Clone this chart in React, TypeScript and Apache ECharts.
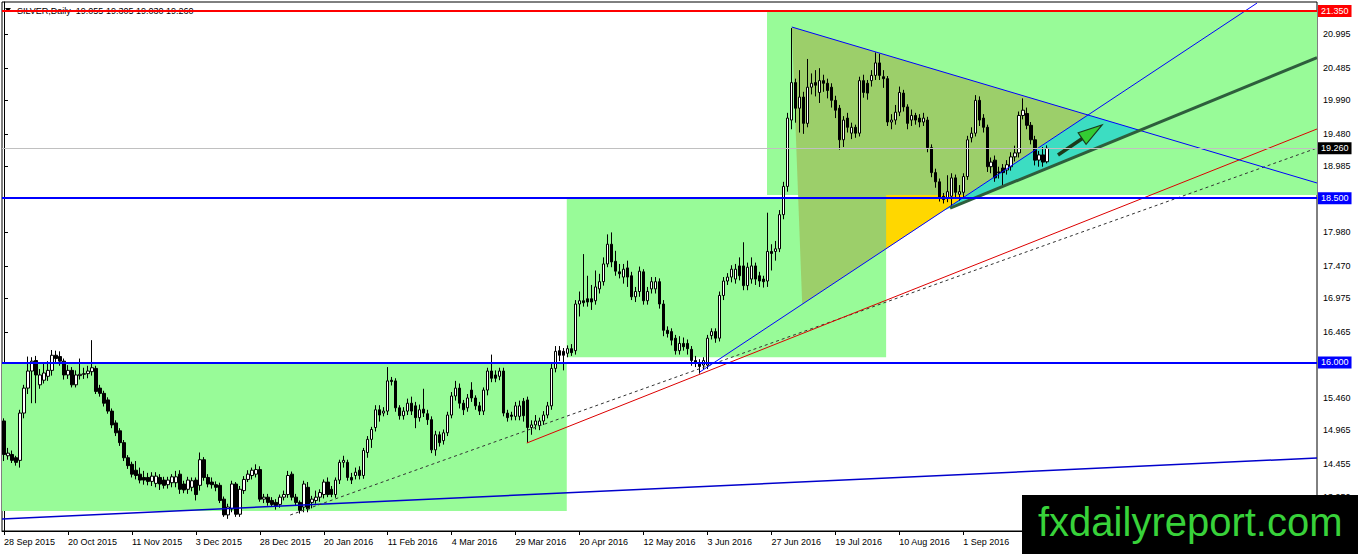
import React, { useEffect, useRef } from "react";
import * as echarts from "echarts";

const FONT = '"Liberation Sans", Arial, sans-serif';
const MONTHS = ["Jan", "Feb", "Mar", "Apr", "May", "Jun", "Jul", "Aug", "Sep", "Oct", "Nov", "Dec"];
const HOLIDAYS = ["2015-12-25", "2016-01-01", "2016-03-25"];
const CATEGORY_COUNT = 329;
const LABEL_EVERY = 16;
const LAST_LABEL_INDEX = 240;

const opens = [
  15.11, 14.58, 14.60, 14.55, 14.51, 15.23, 15.61, 15.87, 16.03, 15.66,
  15.73, 15.79, 15.88, 16.11, 16.09, 16.02, 15.81, 15.88, 15.66, 15.80,
  15.82, 15.83, 15.86, 15.91, 15.61, 15.53, 15.43, 15.26, 15.08, 14.96,
  14.78, 14.55, 14.45, 14.36, 14.30, 14.25, 14.25, 14.19, 14.16, 14.25,
  14.21, 14.14, 14.17, 14.17, 14.30, 14.15, 14.07, 14.10, 14.21, 14.13,
  14.52, 14.25, 14.18, 14.14, 14.13, 13.92, 13.68, 13.77, 14.15, 13.69,
  14.05, 14.22, 14.28, 14.30, 14.37, 13.92, 13.95, 13.90, 13.87, 13.84,
  13.95, 13.99, 14.30, 13.95, 13.87, 13.80, 14.10, 13.87, 13.90, 13.95,
  13.99, 14.18, 14.07, 13.99, 14.21, 14.48, 14.48, 14.25, 14.28, 14.36,
  14.28, 14.63, 14.83, 15.01, 15.28, 15.23, 15.26, 15.73, 15.72, 15.31,
  15.19, 15.26, 15.38, 15.34, 15.16, 15.29, 15.22, 15.13, 14.67, 14.90,
  14.81, 14.93, 15.20, 15.49, 15.61, 15.38, 15.31, 15.58, 15.46, 15.34,
  15.26, 15.58, 15.87, 15.81, 15.79, 15.87, 15.23, 15.20, 15.18, 15.18,
  15.41, 15.43, 15.01, 15.05, 15.04, 15.11, 15.20, 15.34, 15.91, 16.18,
  16.17, 16.14, 16.21, 16.18, 16.89, 16.94, 16.97, 16.97, 16.94, 17.12,
  17.23, 17.50, 17.80, 17.54, 17.38, 17.30, 17.44, 17.32, 17.00, 17.08,
  17.38, 16.94, 17.12, 17.12, 17.23, 16.89, 16.49, 16.47, 16.37, 16.18,
  16.29, 16.29, 16.20, 16.03, 15.99, 15.96, 15.96, 16.41, 16.47, 16.37,
  17.02, 17.24, 17.30, 17.27, 17.47, 17.47, 17.17, 17.27, 17.47, 17.32,
  17.27, 17.24, 17.69, 17.69, 17.73, 18.25, 18.68, 19.69, 20.26, 19.87,
  20.04, 19.64, 20.19, 20.26, 20.11, 20.29, 20.25, 20.19, 19.99, 19.87,
  19.39, 19.72, 19.49, 19.58, 19.49, 20.29, 20.25, 20.29, 20.37, 20.56,
  20.35, 20.32, 19.66, 19.69, 19.81, 20.10, 19.89, 19.69, 19.76, 19.72,
  19.66, 19.69, 19.27, 18.89, 18.75, 18.53, 18.51, 18.53, 18.81, 18.56,
  18.59, 18.83, 19.42, 19.49, 19.99, 19.72, 19.58, 18.98, 19.08, 18.90,
  18.96, 18.93, 18.98, 19.13, 19.19, 19.76, 19.79, 19.61, 19.39, 19.08,
  19.16, 19.055,
];

const closes = [
  14.60, 14.62, 14.51, 14.48, 15.23, 15.61, 15.87, 16.02, 15.81, 15.81,
  15.84, 15.88, 16.11, 16.06, 16.02, 15.81, 15.88, 15.66, 15.81, 15.82,
  15.83, 15.87, 15.92, 15.56, 15.53, 15.38, 15.26, 15.05, 14.93, 14.78,
  14.55, 14.43, 14.30, 14.28, 14.21, 14.21, 14.19, 14.27, 14.27, 14.15,
  14.13, 14.21, 14.26, 14.26, 14.07, 14.06, 14.21, 14.20, 13.99, 14.52,
  14.25, 14.15, 14.14, 14.10, 13.90, 13.68, 13.80, 14.15, 13.69, 14.07,
  14.22, 14.30, 14.36, 14.37, 13.92, 13.95, 13.87, 13.84, 13.82, 13.95,
  13.99, 14.28, 13.95, 13.87, 13.75, 14.15, 13.77, 13.92, 13.95, 14.02,
  14.18, 13.99, 13.99, 14.21, 14.48, 14.51, 14.25, 14.21, 14.33, 14.28,
  14.66, 14.83, 14.98, 15.28, 15.20, 15.26, 15.72, 15.71, 15.31, 15.19,
  15.26, 15.38, 15.26, 15.16, 15.28, 15.23, 15.13, 14.67, 14.90, 14.78,
  14.93, 15.20, 15.49, 15.61, 15.38, 15.28, 15.46, 15.46, 15.34, 15.26,
  15.58, 15.87, 15.76, 15.76, 15.87, 15.23, 15.16, 15.18, 15.34, 15.34,
  15.19, 15.01, 15.05, 15.11, 15.11, 15.20, 15.34, 15.91, 16.17, 16.11,
  16.11, 16.21, 16.15, 16.89, 16.94, 16.91, 16.92, 16.92, 17.15, 17.23,
  17.50, 17.80, 17.53, 17.39, 17.35, 17.42, 17.30, 17.00, 17.08, 17.39,
  16.94, 17.08, 17.23, 17.23, 16.89, 16.49, 16.44, 16.34, 16.18, 16.29,
  16.24, 16.21, 16.03, 15.99, 15.94, 16.03, 16.37, 16.47, 16.37, 17.02,
  17.24, 17.30, 17.42, 17.42, 17.32, 17.17, 17.45, 17.47, 17.27, 17.24,
  17.23, 17.69, 17.66, 17.73, 18.25, 18.68, 19.72, 20.26, 19.87, 20.04,
  19.64, 20.19, 20.25, 20.22, 20.29, 20.25, 20.14, 19.99, 19.84, 19.39,
  19.69, 19.58, 19.58, 19.49, 20.29, 20.11, 20.10, 20.37, 20.56, 20.37,
  20.32, 19.66, 19.69, 19.81, 20.11, 19.89, 19.64, 19.76, 19.69, 19.66,
  19.72, 19.27, 18.89, 18.75, 18.51, 18.48, 18.60, 18.81, 18.59, 18.60,
  18.83, 19.39, 19.49, 19.99, 19.69, 19.58, 18.98, 19.05, 18.81, 18.89,
  18.89, 19.01, 19.13, 19.19, 19.76, 19.84, 19.61, 19.39, 19.08, 19.16,
  19.05, 19.26,
];

const lows = [
  14.50, 14.52, 14.47, 14.43, 14.40, 15.15, 15.52, 15.38, 15.38, 15.60,
  15.68, 15.72, 15.80, 15.98, 15.95, 15.74, 15.75, 15.62, 15.62, 15.74,
  15.75, 15.76, 15.80, 15.52, 15.48, 15.33, 15.22, 15.00, 14.88, 14.73,
  14.50, 14.38, 14.25, 14.22, 14.16, 14.14, 14.13, 14.12, 14.10, 14.06,
  14.08, 14.08, 14.10, 14.10, 14.00, 14.01, 14.00, 14.04, 13.90, 14.05,
  14.20, 14.10, 14.08, 14.04, 13.86, 13.65, 13.62, 13.72, 13.65, 13.65,
  14.00, 14.18, 14.22, 14.25, 13.88, 13.86, 13.82, 13.80, 13.76, 13.79,
  13.90, 13.94, 13.90, 13.82, 13.70, 13.72, 13.72, 13.78, 13.85, 13.88,
  13.93, 13.95, 13.95, 13.94, 14.15, 14.40, 14.20, 14.15, 14.22, 14.22,
  14.23, 14.55, 14.70, 14.95, 15.10, 15.18, 15.20, 15.65, 15.25, 15.13,
  15.13, 15.20, 15.20, 15.00, 15.10, 15.17, 15.05, 14.62, 14.58, 14.72,
  14.75, 14.88, 15.15, 15.42, 15.30, 15.20, 15.25, 15.40, 15.28, 15.20,
  15.20, 15.50, 15.70, 15.70, 15.73, 15.18, 15.10, 15.12, 15.12, 15.12,
  15.10, 14.78, 14.90, 14.98, 14.97, 15.05, 15.15, 15.28, 15.85, 16.02,
  15.88, 16.08, 16.10, 16.12, 16.70, 16.85, 16.85, 16.80, 16.88, 17.05,
  17.17, 17.45, 17.45, 17.32, 17.28, 17.20, 17.15, 16.95, 16.92, 17.00,
  16.88, 16.88, 17.05, 17.05, 16.82, 16.40, 16.38, 16.26, 16.12, 16.12,
  16.18, 16.12, 15.95, 15.93, 15.83, 15.90, 15.90, 16.35, 16.30, 16.32,
  16.95, 17.18, 17.22, 17.20, 17.25, 17.10, 17.10, 17.20, 17.18, 17.15,
  17.14, 17.15, 17.40, 17.55, 17.68, 18.18, 18.60, 19.55, 19.65, 19.50,
  19.48, 19.58, 20.08, 20.05, 19.95, 20.12, 20.02, 19.88, 19.72, 19.24,
  19.28, 19.50, 19.40, 19.42, 19.44, 20.03, 20.00, 20.20, 20.30, 20.30,
  20.18, 19.60, 19.55, 19.62, 19.75, 19.82, 19.55, 19.60, 19.62, 19.58,
  19.60, 19.20, 18.82, 18.66, 18.45, 18.42, 18.44, 18.38, 18.50, 18.46,
  18.52, 18.78, 19.35, 19.44, 19.60, 19.50, 18.90, 18.88, 18.75, 18.80,
  18.70, 18.86, 18.92, 19.06, 19.12, 19.70, 19.55, 19.32, 19.00, 18.98,
  18.98, 19.03,
];

const highs = [
  15.15, 14.70, 14.66, 14.58, 15.28, 15.66, 16.09, 16.08, 16.10, 15.90,
  16.00, 16.02, 16.19, 16.18, 16.17, 16.06, 15.96, 15.93, 15.88, 16.06,
  15.92, 15.95, 16.34, 15.95, 15.66, 15.57, 15.47, 15.30, 15.12, 15.00,
  14.82, 14.59, 14.49, 14.50, 14.40, 14.35, 14.32, 14.33, 14.33, 14.30,
  14.26, 14.26, 14.30, 14.35, 14.36, 14.20, 14.26, 14.25, 14.25, 14.63,
  14.56, 14.30, 14.25, 14.19, 14.17, 13.96, 13.85, 14.20, 14.18, 14.12,
  14.27, 14.36, 14.40, 14.45, 14.42, 14.00, 14.00, 13.95, 13.92, 13.99,
  14.05, 14.35, 14.34, 14.00, 13.90, 14.20, 14.18, 13.97, 14.05, 14.07,
  14.22, 14.25, 14.12, 14.25, 14.52, 14.58, 14.52, 14.32, 14.40, 14.42,
  14.70, 14.88, 15.02, 15.35, 15.35, 15.32, 15.93, 15.78, 15.76, 15.35,
  15.32, 15.45, 15.48, 15.40, 15.36, 15.60, 15.28, 15.18, 14.96, 14.95,
  14.98, 15.25, 15.55, 15.72, 15.68, 15.43, 15.52, 15.70, 15.50, 15.40,
  15.62, 15.92, 16.12, 15.88, 15.92, 15.92, 15.28, 15.25, 15.40, 15.42,
  15.46, 15.48, 15.12, 15.20, 15.16, 15.26, 15.40, 15.98, 16.25, 16.25,
  16.22, 16.26, 16.28, 16.95, 17.08, 17.65, 17.32, 17.18, 17.40, 17.35,
  17.60, 17.95, 17.98, 17.70, 17.50, 17.50, 17.55, 17.38, 17.15, 17.46,
  17.42, 17.15, 17.30, 17.30, 17.28, 16.95, 16.55, 16.52, 16.42, 16.40,
  16.38, 16.35, 16.25, 16.10, 16.05, 16.08, 16.42, 16.52, 16.52, 17.08,
  17.30, 17.36, 17.48, 17.50, 17.60, 17.83, 17.52, 17.60, 17.52, 17.38,
  17.32, 18.28, 17.80, 17.85, 18.32, 18.75, 19.80, 21.09, 20.32, 20.45,
  20.12, 20.62, 20.40, 20.45, 20.48, 20.38, 20.32, 20.25, 20.06, 19.92,
  19.75, 19.80, 19.65, 19.62, 20.35, 20.38, 20.30, 20.45, 20.72, 20.70,
  20.45, 20.36, 19.78, 19.92, 20.20, 20.15, 19.93, 19.85, 19.80, 19.78,
  19.80, 19.74, 19.32, 18.95, 18.80, 18.58, 18.85, 18.88, 18.86, 18.70,
  18.88, 19.45, 19.58, 20.07, 20.05, 19.78, 19.62, 19.12, 19.15, 18.98,
  19.02, 19.08, 19.20, 19.30, 19.82, 20.02, 19.88, 19.66, 19.45, 19.22,
  19.28, 19.305,
];

// right price scale labels
const priceTicks = [20.995, 20.485, 19.99, 19.48, 18.985, 17.98, 17.47, 16.975, 16.465, 15.46, 14.965, 14.455, 13.95];

// horizontal levels: resistance, last price, supports
const resistanceLevel = 21.35;
const lastPrice = 19.26;
const supportLevels = [18.5, 16.0];

// drawn objects, in [bar index, price]
const topTrend = [[197.1, 21.106], [328.5, 18.732]];
const risingTrend = [[174.1, 15.855], [313.5, 21.471]];
const channelLower = [[236.7, 18.351], [328.5, 20.64]];
const redTrend = [[130.8, 14.774], [328.5, 19.554]];
const dashedTrend = [[71.6, 13.678], [328.5, 19.264]];
const baseTrend = [[-0.5, 13.617], [328.5, 14.546]];
// zones: [x1, price top, x2, price bottom]
const zoneA = [-0.5, 16.0, 140.8, 13.74];
const zoneB = [140.8, 18.5, 220.7, 16.08];
const zoneC = [190.9, 21.334, 328.5, 18.549];
const trianglePeak = [197.1, 21.106];
const triangleFootX = 199.7;
const arrowTail = [263.7, 19.158];
const arrowTip = [274.7, 19.614];

const title = "SILVER,Daily  19.055 19.305 19.030 19.260";
const brand = "fxdailyreport.com";

function tradingDays(): string[] {
  const out: string[] = [];
  let t = Date.UTC(2015, 8, 28);
  while (out.length < CATEGORY_COUNT) {
    const d = new Date(t);
    const wd = d.getUTCDay();
    const iso = d.toISOString().slice(0, 10);
    if (wd !== 0 && wd !== 6 && HOLIDAYS.indexOf(iso) < 0) {
      out.push(`${d.getUTCDate()} ${MONTHS[d.getUTCMonth()]} ${d.getUTCFullYear()}`);
    }
    t += 86400000;
  }
  return out;
}

function lineAt(l: number[][], x: number): number {
  const [a, b] = l;
  return a[1] + ((b[1] - a[1]) * (x - a[0])) / (b[0] - a[0]);
}
function slope(l: number[][]) {
  return (l[1][1] - l[0][1]) / (l[1][0] - l[0][0]);
}
function intersect(l1: number[][], l2: number[][]): number[] {
  const m1 = slope(l1);
  const m2 = slope(l2);
  const c1 = l1[0][1] - m1 * l1[0][0];
  const c2 = l2[0][1] - m2 * l2[0][0];
  const x = (c2 - c1) / (m1 - m2);
  return [x, m1 * x + c1];
}

export default function App() {
  const ref = useRef<HTMLDivElement>(null);
  useEffect(() => {
    document.body.style.margin = "0";
    if (!ref.current) return;
    const chart = echarts.init(ref.current, null, { renderer: "svg" });
    const dates = tradingDays();
    const candles = opens.map((o, i) => [o, closes[i], lows[i], highs[i]]);

    const topRise = intersect(topTrend, risingTrend);
    const lowRise = intersect(channelLower, risingTrend);
    const topLow = intersect(topTrend, channelLower);
    const footY = lineAt(risingTrend, triangleFootX);
    const yellowRightX = risingTrend[0][0] + (zoneC[3] - risingTrend[0][1]) / slope(risingTrend);

    const bgRender = (params: any, api: any) => {
      const c = (p: number[]) => api.coord(p);
      const rect = (z: number[], fill: string) => {
        const a = c([z[0], z[1]]);
        const b = c([z[2], z[3]]);
        return { type: "rect", shape: { x: a[0], y: a[1], width: b[0] - a[0], height: b[1] - a[1] }, style: { fill } };
      };
      const poly = (pts: number[][], fill: string) => ({
        type: "polygon",
        shape: { points: pts.map(c) },
        style: { fill },
      });
      return {
        type: "group",
        children: [
          rect(zoneA, "#98FB98"),
          rect(zoneB, "#98FB98"),
          rect(zoneC, "#98FB98"),
          poly([trianglePeak, [triangleFootX, footY], topRise], "#9CCF6A"),
          poly(
            [
              [zoneB[2], zoneC[3]],
              [yellowRightX, zoneC[3]],
              [zoneB[2], lineAt(risingTrend, zoneB[2])],
            ],
            "#FFD700"
          ),
          poly([lowRise, topRise, topLow], "#3CDDC2"),
        ],
      };
    };

    const fgRender = (params: any, api: any) => {
      const c = (p: number[]) => api.coord(p);
      const seg = (l: number[][], stroke: string, lineWidth: number, dash?: number[]) => {
        const a = c(l[0]);
        const b = c(l[1]);
        return {
          type: "line",
          shape: { x1: a[0], y1: a[1], x2: b[0], y2: b[1] },
          style: { stroke, lineWidth, lineDash: dash || null, fill: null },
        };
      };
      const t = c(arrowTail);
      const h = c(arrowTip);
      const dx = h[0] - t[0];
      const dy = h[1] - t[1];
      const len = Math.sqrt(dx * dx + dy * dy);
      const ux = dx / len;
      const uy = dy / len;
      const headLen = 24;
      const half = 7;
      const bx = h[0] - ux * headLen;
      const by = h[1] - uy * headLen;
      return {
        type: "group",
        children: [
          seg(baseTrend, "#0000CC", 1.5),
          seg(dashedTrend, "#333333", 1, [3, 3]),
          seg(redTrend, "#DD0000", 1),
          seg(risingTrend, "#0000FF", 1),
          seg(topTrend, "#0000FF", 1),
          seg(channelLower, "#2E5E3C", 3),
          {
            type: "line",
            shape: { x1: t[0], y1: t[1], x2: bx + ux * 2, y2: by + uy * 2 },
            style: { stroke: "#1B3A1B", lineWidth: 3.5 },
          },
          {
            type: "polygon",
            shape: {
              points: [
                [h[0], h[1]],
                [bx - uy * half, by + ux * half],
                [bx + uy * half, by - ux * half],
              ],
            },
            style: { fill: "#33CC33", stroke: "#1B3A1B", lineWidth: 1.2 },
          },
        ],
      };
    };

    const levelLabel = (text: string, bg: string) => ({
      show: true,
      position: "end",
      formatter: text,
      backgroundColor: bg,
      color: "#FFFFFF",
      padding: [2, 3, 1, 3],
      distance: 1,
      fontSize: 9,
      fontFamily: FONT,
    });

    chart.setOption({
      animation: false,
      backgroundColor: "#FFFFFF",
      grid: {
        left: 2,
        top: 2,
        right: 41,
        bottom: 23,
        show: true,
        borderColor: "#000000",
        borderWidth: 1,
        backgroundColor: "transparent",
      },
      xAxis: [
        {
          type: "category",
          data: dates,
          boundaryGap: true,
          axisLine: { show: true, lineStyle: { color: "#000000", width: 1 } },
          axisTick: {
            show: true,
            interval: (i: number) => i % LABEL_EVERY === 0 && i <= LAST_LABEL_INDEX,
            alignWithLabel: true,
            length: 4,
            lineStyle: { color: "#000000" },
          },
          axisLabel: {
            interval: (i: number) => i % LABEL_EVERY === 0 && i <= LAST_LABEL_INDEX,
            align: "left",
            fontSize: 9,
            color: "#000000",
            margin: 6,
            fontFamily: FONT,
          },
          splitLine: { show: false },
        },
        {
          type: "value",
          min: -0.5,
          max: CATEGORY_COUNT - 0.5,
          show: false,
          splitLine: { show: false },
        },
      ],
      yAxis: {
        type: "value",
        position: "right",
        min: 13.435,
        max: 21.487,
        axisLine: { show: true, lineStyle: { color: "#000000" } },
        axisTick: { show: true, customValues: priceTicks, length: 4, lineStyle: { color: "#000000" } },
        axisLabel: {
          customValues: priceTicks,
          formatter: (v: number) => v.toFixed(3),
          fontSize: 9,
          color: "#000000",
          margin: 6,
          fontFamily: FONT,
        },
        splitLine: { show: false },
      },
      graphic: [
        {
          type: "polygon",
          z: 0,
          shape: { points: [[5, 8], [11, 8], [8, 12]] },
          style: { fill: "#000000" },
        },
        {
          type: "text",
          z: 0,
          x: 17,
          y: 11,
          style: { text: title, font: `9px ${FONT}`, fill: "#000000", verticalAlign: "middle" },
        },
        {
          type: "rect",
          z: 100,
          shape: { x: 1022, y: 495, width: 336, height: 59 },
          style: { fill: "#000000" },
        },
        {
          type: "text",
          z: 101,
          x: 1038,
          y: 522,
          style: { text: brand, font: `40px ${FONT}`, fill: "#38D23A", verticalAlign: "middle" },
        },
      ],
      series: [
        {
          type: "custom",
          xAxisIndex: 1,
          yAxisIndex: 0,
          z: 1,
          silent: true,
          clip: true,
          data: [[0, 15]],
          renderItem: bgRender,
        },
        {
          type: "candlestick",
          xAxisIndex: 0,
          yAxisIndex: 0,
          z: 2,
          barWidth: 3,
          data: candles,
          itemStyle: {
            color: "#FFFFFF",
            color0: "#000000",
            borderColor: "#000000",
            borderColor0: "#000000",
            borderWidth: 1,
          },
          markLine: {
            silent: true,
            symbol: "none",
            animation: false,
            data: [
              {
                yAxis: resistanceLevel,
                lineStyle: { color: "#FF0000", width: 2, type: "solid" },
                label: levelLabel(resistanceLevel.toFixed(3), "#FF0000"),
              },
              {
                yAxis: lastPrice,
                lineStyle: { color: "#C0C0C0", width: 1, type: "solid" },
                label: levelLabel(lastPrice.toFixed(3), "#000000"),
              },
              ...supportLevels.map((v) => ({
                yAxis: v,
                lineStyle: { color: "#0000FF", width: 2, type: "solid" },
                label: levelLabel(v.toFixed(3), "#0000FF"),
              })),
            ],
          },
        },
        {
          type: "custom",
          xAxisIndex: 1,
          yAxisIndex: 0,
          z: 3,
          silent: true,
          clip: true,
          data: [[0, 15]],
          renderItem: fgRender,
        },
      ],
    });
    return () => chart.dispose();
  }, []);
  return <div ref={ref} style={{ width: 1358, height: 554 }} />;
}
